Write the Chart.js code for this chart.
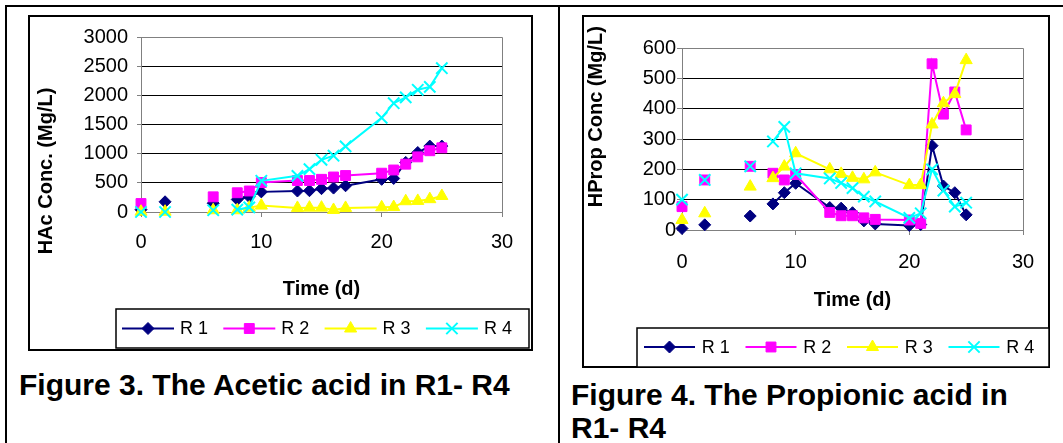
<!DOCTYPE html>
<html>
<head>
<meta charset="utf-8">
<script src="https://cdn.jsdelivr.net/npm/chart.js@4.4.1/dist/chart.umd.min.js"></script>
<style>
html,body{margin:0;padding:0;background:#fff;width:1063px;height:443px;overflow:hidden;position:relative;font-family:"Liberation Sans",Arial,sans-serif;}
.rule{position:absolute;background:#000;}
.wrap{position:absolute;}
.cap{position:absolute;font-weight:bold;font-size:30px;line-height:33px;color:#000;white-space:nowrap;}
</style>
</head>
<body>
<div class="rule" style="left:5px;top:5px;width:1058px;height:2px"></div>
<div class="rule" style="left:5px;top:5px;width:2px;height:438px"></div>
<div class="rule" style="left:558px;top:5px;width:2px;height:438px"></div>

<div class="wrap" style="left:28px;top:15px;width:506px;height:337px"><canvas id="c1" width="506" height="337"></canvas></div>
<div class="wrap" style="left:582px;top:15px;width:469px;height:353px"><canvas id="c2" width="469" height="353"></canvas></div>

<div class="cap" style="left:19px;top:368px">Figure 3. The Acetic acid in R1- R4</div>
<div class="cap" style="left:571px;top:378px">Figure 4. The Propionic acid in<br>R1- R4</div>

<script>
// ---------- data ----------
const days = [0, 2, 6, 8, 9, 10, 13, 14, 15, 16, 17, 20, 21, 22, 23, 24, 25];
const seriesNames = ['R 1', 'R 2', 'R 3', 'R 4'];

// Acetic acid (HAc), mg/L
const hacR1 = [40, 175, 150, 215, 260, 345, 360, 365, 400, 410, 450, 560, 575, 850, 1020, 1130, 1130];
const hacR2 = [145, null, 260, 330, 360, 505, 540, 540, 560, 600, 625, 665, 720, 820, 945, 1050, 1100];
const hacR3 = [5, 5, 30, 30, 75, 110, 70, 75, 75, 35, 70, 80, 85, 185, 190, 220, 275];
const hacR4 = [0, 0, 30, 40, 80, 535, 620, 735, 895, 965, 1125, 1615, 1865, 1965, 2095, 2145, 2465];

// Propionic acid (HProp), mg/L
const hpR1 = [5, 17, 46, 86, 123, 154, 74, 72, 57, 30, 20, 15, 18, 278, 145, 123, 50];
const hpR2 = [77, 165, 210, 187, 165, 183, 58, 47, 47, 40, 35, 33, 22, 548, 382, 455, 330];
const hpR3 = [33, 55, 143, 171, 209, 253, 200, 185, 172, 167, 190, 148, 148, 348, 418, 448, 560];
const hpR4 = [100, 165, 210, 292, 340, 187, 170, 155, 138, 110, 94, 40, 55, 200, 130, 77, 90];

// tick labels
const xTickValues = [0, 10, 20, 30];
const hacTickValues = [0, 500, 1000, 1500, 2000, 2500, 3000];
const hpTickValues = [0, 100, 200, 300, 400, 500, 600];

const lineStartDay = 8;

// ---------- styling ----------
const FONT = '"Liberation Sans", Arial, sans-serif';
Chart.defaults.font.family = FONT;
Chart.defaults.color = '#000';

const styles = [
  {color: '#000080', pointStyle: 'rectRot', radius: 6, pbw: 1},
  {color: '#FF00FF', pointStyle: 'rect', radius: 7, pbw: 1},
  {color: '#FFFF00', pointStyle: 'triangle', radius: 7, pbw: 1},
  {color: '#00FFFF', pointStyle: 'crossRot', radius: 8, pbw: 2}
];

function makeDatasets(seriesList) {
  return seriesList.map((vals, i) => {
    const st = styles[i];
    return {
      label: seriesNames[i],
      data: days.map((d, j) => ({x: d, y: vals[j]})),
      borderColor: st.color,
      backgroundColor: st.color,
      pointBackgroundColor: st.color,
      pointBorderColor: st.color,
      pointStyle: st.pointStyle,
      pointRadius: st.radius,
      pointHoverRadius: st.radius,
      pointBorderWidth: st.pbw,
      borderWidth: 2,
      tension: 0,
      spanGaps: false,
      clip: false,
      order: 4 - i,
      segment: {
        borderColor: c => (c.p0.parsed.x < lineStartDay ? 'rgba(0,0,0,0)' : st.color)
      }
    };
  });
}

function drawMarker(ctx, style, r, x, y, color, bw) {
  ctx.save();
  ctx.fillStyle = color; ctx.strokeStyle = color; ctx.lineWidth = bw;
  ctx.beginPath();
  if (style === 'rectRot') {
    ctx.moveTo(x, y - r); ctx.lineTo(x + r, y); ctx.lineTo(x, y + r); ctx.lineTo(x - r, y); ctx.closePath();
    ctx.fill(); ctx.stroke();
  } else if (style === 'rect') {
    const s = r * Math.SQRT1_2;
    ctx.rect(x - s, y - s, 2 * s, 2 * s); ctx.fill(); ctx.stroke();
  } else if (style === 'triangle') {
    ctx.moveTo(x, y - r);
    ctx.lineTo(x + r * Math.sin(2 * Math.PI / 3), y - r * Math.cos(2 * Math.PI / 3));
    ctx.lineTo(x + r * Math.sin(4 * Math.PI / 3), y - r * Math.cos(4 * Math.PI / 3));
    ctx.closePath(); ctx.fill(); ctx.stroke();
  } else if (style === 'crossRot') {
    const c = r * Math.SQRT1_2;
    ctx.moveTo(x - c, y - c); ctx.lineTo(x + c, y + c);
    ctx.moveTo(x + c, y - c); ctx.lineTo(x - c, y + c);
    ctx.stroke();
  }
  ctx.restore();
}

const framePlugin = {
  id: 'frame',
  beforeDatasetsDraw(chart) {
    const ctx = chart.ctx, a = chart.chartArea;
    ctx.save();
    ctx.strokeStyle = '#808080'; ctx.lineWidth = 1;
    const r = Math.round(a.right) + 0.5, t = Math.round(a.top) + 0.5;
    ctx.beginPath();
    ctx.moveTo(Math.round(a.left), t); ctx.lineTo(r, t); ctx.lineTo(r, Math.round(a.bottom) + 1);
    ctx.stroke();
    ctx.restore();
  },
  afterDraw(chart, args, o) {
    const ctx = chart.ctx;
    ctx.save();
    // outer chart box
    ctx.strokeStyle = '#000'; ctx.lineWidth = 2;
    ctx.strokeRect(o.box[0], o.box[1], o.box[2], o.box[3]);
    // y title
    ctx.save();
    ctx.translate(o.yTitle[0], o.yTitle[1]);
    ctx.rotate(-Math.PI / 2);
    ctx.fillStyle = '#000';
    ctx.font = 'bold 20px ' + FONT;
    ctx.textAlign = 'center'; ctx.textBaseline = 'middle';
    ctx.fillText(o.yTitleText, 0, 0);
    ctx.restore();
    // legend
    const L = o.legend;
    ctx.fillStyle = '#fff';
    ctx.fillRect(L.x, L.y, L.w, L.h);
    ctx.strokeStyle = '#000'; ctx.lineWidth = 1.5;
    ctx.strokeRect(L.x, L.y, L.w, L.h);
    chart.data.datasets.forEach((ds, i) => {
      const x0 = L.itemX + i * L.spacing;
      const cy = L.cy;
      ctx.strokeStyle = ds.borderColor; ctx.lineWidth = 2;
      ctx.beginPath(); ctx.moveTo(x0, cy); ctx.lineTo(x0 + L.lineLen, cy); ctx.stroke();
      drawMarker(ctx, ds.pointStyle, ds.pointRadius, x0 + L.lineLen / 2, cy, ds.borderColor, ds.pointBorderWidth);
      ctx.fillStyle = '#000';
      ctx.font = '18px ' + FONT;
      ctx.textAlign = 'left'; ctx.textBaseline = 'middle';
      ctx.fillText(ds.label, x0 + L.lineLen + L.textGap, cy + 1);
    });
    ctx.restore();
  }
};

function makeChart(id, seriesList, yTicks, cfg) {
  const yMax = yTicks[yTicks.length - 1];
  return new Chart(document.getElementById(id), {
    type: 'line',
    data: {datasets: makeDatasets(seriesList)},
    plugins: [framePlugin],
    options: {
      responsive: false,
      animation: false,
      devicePixelRatio: 1,
      events: [],
      layout: {padding: cfg.padding},
      plugins: {
        legend: {display: false},
        tooltip: {enabled: false},
        frame: cfg.frame
      },
      scales: {
        x: {
          type: 'linear', position: 'bottom', min: 0, max: 30,
          afterBuildTicks: s => { s.ticks = xTickValues.map(v => ({value: v})); },
          afterFit: s => { s.height = cfg.xHeight; },
          ticks: {font: {size: 20}, color: '#000', padding: cfg.xTickPad, maxRotation: 0, autoSkip: false,
                  callback: v => String(v)},
          grid: {drawOnChartArea: false, drawTicks: true, tickLength: 5, color: '#808080', tickColor: '#808080'},
          border: {display: true, color: '#808080', width: 1},
          title: {display: true, text: 'Time (d)', color: '#000',
                  font: {size: 20, weight: 'bold'}, padding: {top: 0, bottom: cfg.xTitlePad}}
        },
        y: {
          type: 'linear', position: 'left', min: 0, max: yMax,
          afterBuildTicks: s => { s.ticks = yTicks.map(v => ({value: v})); },
          afterFit: s => { s.width = cfg.yWidth; },
          ticks: {font: {size: 20}, color: '#000', padding: cfg.yTickPad, autoSkip: false,
                  callback: v => String(v)},
          grid: {
            color: c => (c.tick && (c.tick.value === 0 || c.tick.value === yMax)) ? '#808080' : '#000000',
            tickColor: '#808080', tickLength: cfg.yTickLen, lineWidth: 1, drawTicks: true
          },
          border: {display: true, color: '#808080', width: 1},
          title: {display: false}
        }
      }
    }
  });
}

makeChart('c1', [hacR1, hacR2, hacR3, hacR4], hacTickValues, {
  padding: {left: 0, top: 22, right: 32, bottom: 40},
  xHeight: 100, xTickPad: 13, xTitlePad: 11,
  yWidth: 113, yTickPad: 9, yTickLen: 4,
  frame: {
    box: [1, 1, 503, 334],
    yTitle: [18.5, 156],
    yTitleText: 'HAc Conc. (Mg/L)',
    legend: {x: 88, y: 294, w: 413, h: 39, itemX: 94, spacing: 101.3, lineLen: 52, textGap: 6, cy: 313.5}
  }
});

makeChart('c2', [hpR1, hpR2, hpR3, hpR4], hpTickValues, {
  padding: {left: 0, top: 33, right: 28, bottom: 43},
  xHeight: 95, xTickPad: 15, xTitlePad: 13,
  yWidth: 100, yTickPad: 1, yTickLen: 5,
  frame: {
    box: [1, 1, 466, 351],
    yTitle: [14.7, 101.7],
    yTitleText: 'HProp Conc (Mg/L)',
    legend: {x: 55, y: 313, w: 412, h: 39, itemX: 62, spacing: 101.5, lineLen: 51, textGap: 6.7, cy: 332}
  }
});
</script>
</body>
</html>
